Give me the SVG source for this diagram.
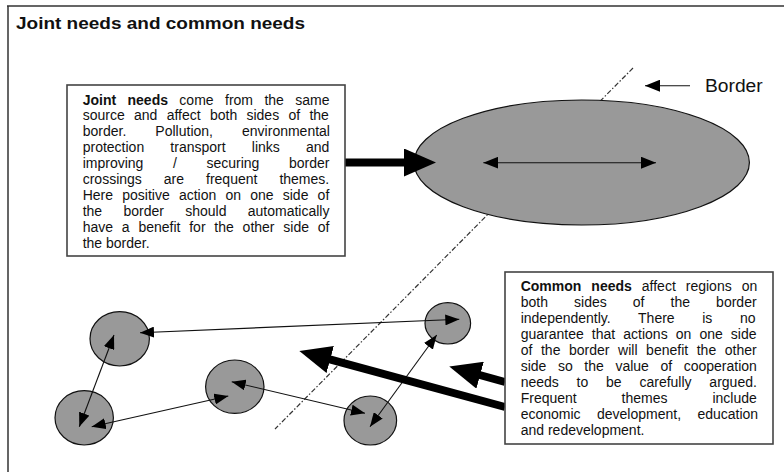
<svg xmlns="http://www.w3.org/2000/svg" width="784" height="472" viewBox="0 0 784 472">
<style>
.frame{stroke:#333;stroke-width:1.5;fill:none}
.region{fill:#999;stroke:#111;stroke-width:1.2}
.box{fill:#fff;stroke:#444;stroke-width:1.6}
.txt{font-family:"Liberation Sans",Arial,sans-serif;font-size:14px;fill:#111}
.b{font-weight:bold}
.thin{stroke:#111;stroke-width:1.1;fill:none}
.thick{stroke:#000;stroke-width:8;fill:none}
.border{stroke:#333;stroke-width:1.2;stroke-dasharray:5 2 1.5 2;fill:none}
</style>
<defs>
<marker id="sm" viewBox="0 0 14 11" markerWidth="14" markerHeight="11" refX="14" refY="5.5" orient="auto-start-reverse" markerUnits="userSpaceOnUse"><path d="M0,0 L14,5.5 L0,11 z" fill="#000"/></marker>
<marker id="md" viewBox="0 0 15 12" markerWidth="15" markerHeight="12" refX="15" refY="6" orient="auto-start-reverse" markerUnits="userSpaceOnUse"><path d="M0,0 L15,6 L0,12 z" fill="#000"/></marker>
<marker id="big" viewBox="0 0 4 3.5" markerWidth="4" markerHeight="3.5" refX="1" refY="1.75" orient="auto" markerUnits="strokeWidth"><path d="M0,0 L4,1.75 L0,3.5 z" fill="#000"/></marker>
</defs>
<rect width="784" height="472" fill="#fff"/>
<path class="frame" d="M7,6 H784 M8,6 V472"/>
<text id="title" class="txt b" x="16" y="29" style="font-size:17px" textLength="289" lengthAdjust="spacingAndGlyphs">Joint needs and common needs</text>

<g id="border-line"><line class="border" x1="633" y1="68" x2="275" y2="429"/></g>

<g id="region"><ellipse class="region" cx="581.7" cy="162.5" rx="167.7" ry="62.5"/></g>

<g id="c1"><ellipse class="region" cx="119.7" cy="338.8" rx="29.7" ry="27.2"/></g>
<g id="c2"><ellipse class="region" cx="84.2" cy="417.8" rx="29.2" ry="27.2"/></g>
<g id="c3"><ellipse class="region" cx="234.8" cy="386.7" rx="29.2" ry="26.7"/></g>
<g id="c4"><ellipse class="region" cx="370.3" cy="420.5" rx="26.3" ry="24.5"/></g>
<g id="c5"><ellipse class="region" cx="447.8" cy="323.3" rx="22.8" ry="20.7"/></g>

<g id="connectors">
<line class="thin" x1="483.3" y1="162.7" x2="656" y2="162.7" marker-start="url(#md)" marker-end="url(#md)"/>
<line class="thin" x1="690" y1="85.7" x2="645" y2="85.7" marker-end="url(#md)"/>
<line class="thin" x1="140" y1="332.7" x2="459.3" y2="319.3" marker-start="url(#sm)" marker-end="url(#sm)"/>
<line class="thin" x1="114" y1="335" x2="79.3" y2="426.7" marker-start="url(#sm)" marker-end="url(#sm)"/>
<line class="thin" x1="91.7" y1="426.7" x2="228.3" y2="396" marker-start="url(#sm)" marker-end="url(#sm)"/>
<line class="thin" x1="231.7" y1="381.7" x2="365" y2="413.3" marker-start="url(#sm)" marker-end="url(#sm)"/>
<line class="thin" x1="370" y1="426.7" x2="436.7" y2="335" marker-start="url(#sm)" marker-end="url(#sm)"/>
<line class="thick" x1="345" y1="162.5" x2="412" y2="162.5" marker-end="url(#big)"/>
<line class="thick" x1="505" y1="407" x2="322.5" y2="357.3" marker-end="url(#big)"/>
<line class="thick" x1="505" y1="382" x2="472.4" y2="373" marker-end="url(#big)"/>
</g>

<g id="border-label"><text class="txt" x="705" y="91.7" style="font-size:18px" textLength="57.7" lengthAdjust="spacingAndGlyphs">Border</text></g>

<g id="joint-box">
<rect class="box" x="67" y="85" width="278" height="171"/>
<text class="txt" x="82.7" y="104.5" word-spacing="7.5"><tspan class="b">Joint needs</tspan> come from the same</text>
<text class="txt" x="82.7" y="120.4" word-spacing="5.4">source and affect both sides of the</text>
<text class="txt" x="82.7" y="136.3" word-spacing="25.2">border. Pollution, environmental</text>
<text class="txt" x="82.7" y="152.2" word-spacing="22.3">protection transport links and</text>
<text class="txt" x="82.7" y="168.1" word-spacing="25.7">improving / securing border</text>
<text class="txt" x="82.7" y="184" word-spacing="18.1">crossings are frequent themes.</text>
<text class="txt" x="82.7" y="199.9" word-spacing="5.3">Here positive action on one side of</text>
<text class="txt" x="82.7" y="215.8" word-spacing="17.4">the border should automatically</text>
<text class="txt" x="82.7" y="231.7" word-spacing="4.9">have a benefit for the other side of</text>
<text class="txt" x="82.7" y="247.6">the border.</text>
</g>

<g id="common-box">
<rect class="box" x="505" y="272" width="268" height="172"/>
<text class="txt" x="520.7" y="290.7" word-spacing="6.1"><tspan class="b">Common needs</tspan> affect regions on</text>
<text class="txt" x="520.7" y="306.7" word-spacing="22.2">both sides of the border</text>
<text class="txt" x="520.7" y="322.7" word-spacing="23.7">independently. There is no</text>
<text class="txt" x="520.7" y="338.7" word-spacing="4.2">guarantee that actions on one side</text>
<text class="txt" x="520.7" y="354.7" word-spacing="4.7">of the border will benefit the other</text>
<text class="txt" x="520.7" y="370.7" word-spacing="7.7">side so the value of cooperation</text>
<text class="txt" x="520.7" y="386.7" word-spacing="13.9">needs to be carefully argued.</text>
<text class="txt" x="520.7" y="402.7" word-spacing="41">Frequent themes include</text>
<text class="txt" x="520.7" y="418.7" word-spacing="12.5">economic development, education</text>
<text class="txt" x="520.7" y="434.7">and redevelopment.</text>
</g>
</svg>
